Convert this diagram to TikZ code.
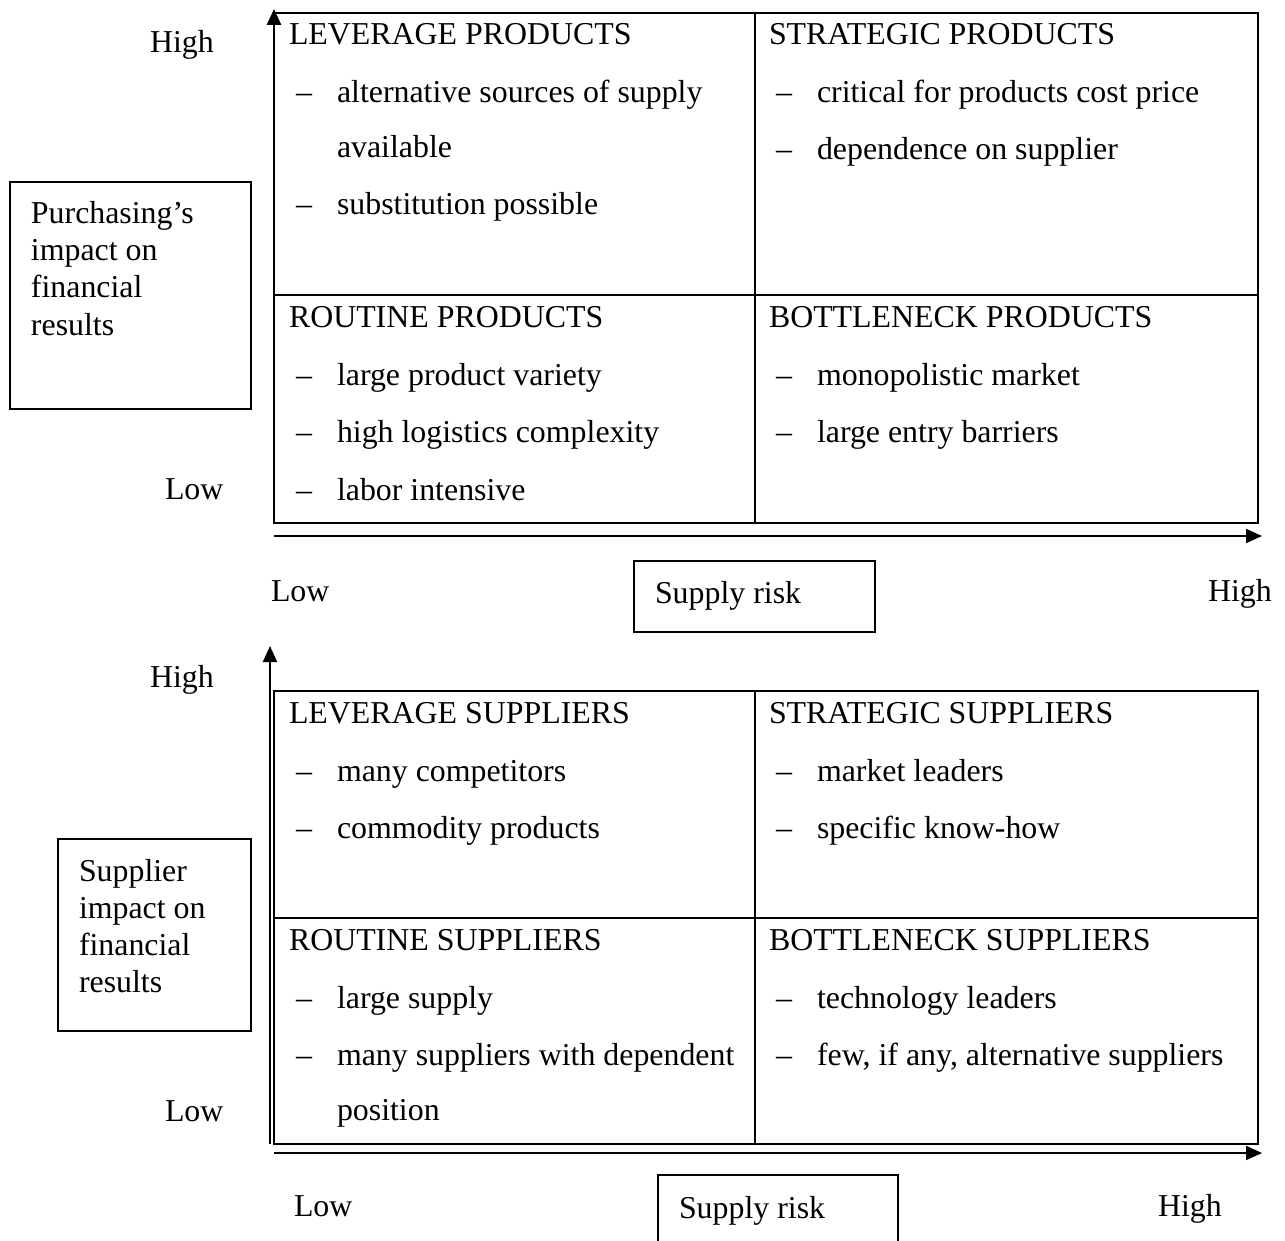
\documentclass[tikz,border=0pt]{standalone}
\usepackage{fontspec}
\setmainfont{Liberation Serif}
\usetikzlibrary{arrows.meta}
\begin{document}
\begin{tikzpicture}[x=0.75pt,y=-0.75pt,
  every node/.style={font=\fontsize{23.9pt}{28pt}\selectfont, inner sep=0pt, outer sep=0pt},
  txt/.style={anchor=base west},
  grid/.style={line width=1.5pt},
  lbox/.style={line width=1.2pt},
  axis/.style={line width=1.5pt, -{Triangle[length=12pt,width=10.5pt]}}]
\useasboundingbox (0,0) rectangle (1285,1241);
\newcommand{\dsh}[3]{\node[txt] at (#1,#2) {–};\node[txt] at (#1+41,#2) {#3};}
% ---------- TOP MATRIX ----------
\draw[grid] (274,13) rectangle (1258,523);
\draw[grid] (755,13) -- (755,523);
\draw[grid] (274,295) -- (1258,295);
\coordinate (tyA) at (274,110);
\coordinate (tyB) at (274,9);
\draw[axis, line width=2pt] (tyA) -- (tyB);
\coordinate (txA) at (274,536);
\coordinate (txB) at (1262,536);
\draw[axis] (txA) -- (txB);
\node[txt] (tHigh) at (150,53) {High};
\node[txt] (tLow) at (165,499) {Low};
\node[txt] (txLow) at (271,601) {Low};
\node[txt] (txHigh) at (1208,601) {High};
\draw[lbox] (634,561) rectangle (875,632);
\node[txt] (tRisk) at (655,603) {Supply risk};
\draw[lbox] (10,182) rectangle (251,409);
\node[txt] (tL1) at (31,224) {Purchasing’s};
\node[txt] (tL2) at (31,261) {impact on};
\node[txt] (tL3) at (31,298) {financial};
\node[txt] (tL4) at (31,335) {results};
% cells
\node[txt] (lev) at (289,45) {LEVERAGE PRODUCTS};
\dsh{296}{103}{alternative sources of supply}
\node[txt] (levb) at (337,158) {available};
\dsh{296}{215}{substitution possible}
\node[txt] (str) at (769,45) {STRATEGIC PRODUCTS};
\dsh{776}{103}{critical for products cost price}
\dsh{776}{160}{dependence on supplier}
\node[txt] (rou) at (289,327) {ROUTINE PRODUCTS};
\dsh{296}{385}{large product variety}
\dsh{296}{442}{high logistics complexity}
\dsh{296}{500}{labor intensive}
\node[txt] (bot) at (769,327) {BOTTLENECK PRODUCTS};
\dsh{776}{385}{monopolistic market}
\dsh{776}{442}{large entry barriers}
% ---------- BOTTOM MATRIX ----------
\draw[grid] (274,691) rectangle (1258,1144);
\draw[grid] (755,691) -- (755,1144);
\draw[grid] (274,918) -- (1258,918);
\coordinate (byA) at (270,1144);
\coordinate (byB) at (270,646);
\draw[axis] (byA) -- (byB);
\coordinate (bxA) at (274,1153);
\coordinate (bxB) at (1262,1153);
\draw[axis] (bxA) -- (bxB);
\node[txt] (bHigh) at (150,687) {High};
\node[txt] (bLow) at (165,1121) {Low};
\node[txt] (bxLow) at (294,1216) {Low};
\node[txt] (bxHigh) at (1158,1216) {High};
\draw[lbox] (658,1175) rectangle (898,1260);
\node[txt] (bRisk) at (679,1218) {Supply risk};
\draw[lbox] (58,839) rectangle (251,1031);
\node[txt] (bL1) at (79,881) {Supplier};
\node[txt] (bL2) at (79,918) {impact on};
\node[txt] (bL3) at (79,955) {financial};
\node[txt] (bL4) at (79,992) {results};
\node[txt] (blev) at (289,723) {LEVERAGE SUPPLIERS};
\dsh{296}{781}{many competitors}
\dsh{296}{838}{commodity products}
\node[txt] (bstr) at (769,723) {STRATEGIC SUPPLIERS};
\dsh{776}{781}{market leaders}
\dsh{776}{838}{specific know-how}
\node[txt] (brou) at (289,950) {ROUTINE SUPPLIERS};
\dsh{296}{1008}{large supply}
\dsh{296}{1065}{many suppliers with dependent}
\node[txt] (broub) at (337,1120) {position};
\node[txt] (bbot) at (769,950) {BOTTLENECK SUPPLIERS};
\dsh{776}{1008}{technology leaders}
\dsh{776}{1065}{few, if any, alternative suppliers}
\end{tikzpicture}
\end{document}
